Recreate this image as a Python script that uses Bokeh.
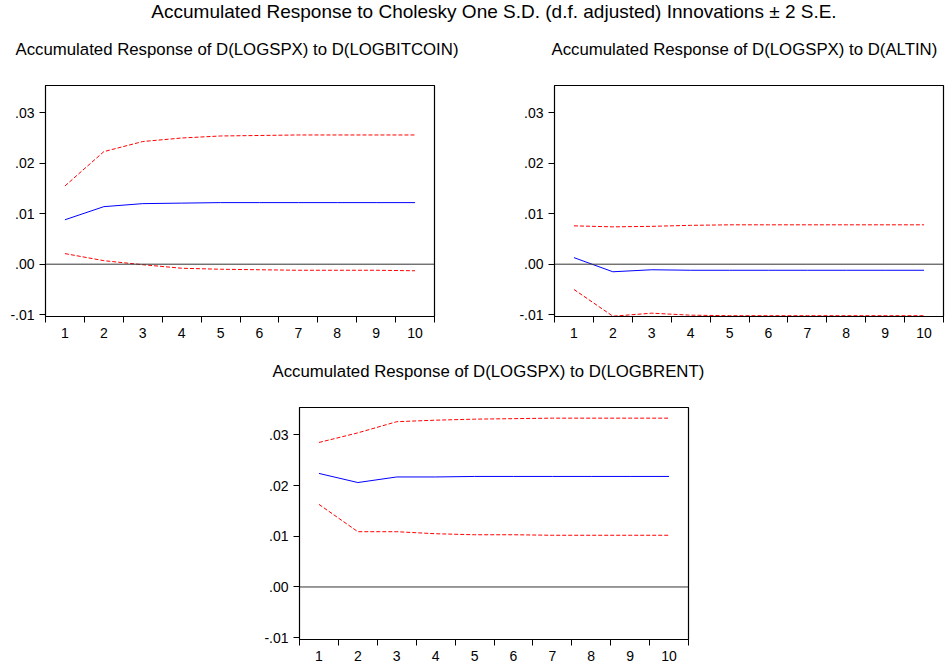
from bokeh.plotting import figure
from bokeh.layouts import column, row
from bokeh.models import Range1d, FixedTicker, Span, Title
from bokeh.embed import file_html
from bokeh.resources import INLINE

periods = [1, 2, 3, 4, 5, 6, 7, 8, 9, 10]

bitcoin_resp = [0.0088, 0.0114, 0.0120, 0.0121, 0.0122, 0.0122, 0.0122, 0.0122, 0.0122, 0.0122]
bitcoin_upper = [0.0155, 0.0223, 0.0243, 0.0250, 0.0254, 0.0255, 0.0256, 0.0256, 0.0256, 0.0256]
bitcoin_lower = [0.0021, 0.0007, -0.0001, -0.0008, -0.0010, -0.0011, -0.0012, -0.0012, -0.0012, -0.0013]

altin_resp = [0.0013, -0.0015, -0.0011, -0.0012, -0.0012, -0.0012, -0.0012, -0.0012, -0.0012, -0.0012]
altin_upper = [0.0076, 0.0074, 0.0075, 0.0077, 0.0078, 0.0078, 0.0078, 0.0078, 0.0078, 0.0078]
altin_lower = [-0.0050, -0.0103, -0.0097, -0.0101, -0.0102, -0.0102, -0.0102, -0.0102, -0.0102, -0.0102]

brent_resp = [0.0224, 0.0206, 0.0217, 0.0217, 0.0218, 0.0218, 0.0218, 0.0218, 0.0218, 0.0218]
brent_upper = [0.0285, 0.0304, 0.0326, 0.0329, 0.0331, 0.0332, 0.0333, 0.0333, 0.0333, 0.0333]
brent_lower = [0.0163, 0.0109, 0.0109, 0.0105, 0.0103, 0.0103, 0.0102, 0.0102, 0.0102, 0.0102]

y_ticks = [-0.01, 0.0, 0.01, 0.02, 0.03]
y_tick_labels = ["-.01", ".00", ".01", ".02", ".03"]
x_boundaries = [0.5, 1.5, 2.5, 3.5, 4.5, 5.5, 6.5, 7.5, 8.5, 9.5, 10.5]

main_title = "Accumulated Response to Cholesky One S.D. (d.f. adjusted) Innovations \u00b1 2 S.E."
sub_titles = [
    "Accumulated Response of D(LOGSPX) to D(LOGBITCOIN)",
    "Accumulated Response of D(LOGSPX) to D(ALTIN)",
    "Accumulated Response of D(LOGSPX) to D(LOGBRENT)",
]

FONT = "Liberation Sans"


def panel(title, resp, upper, lower, width, height, left, right, top, bottom, gap, shift):
    p = figure(width=width, height=height, output_backend="svg", toolbar_location=None,
               title=None,
               x_range=Range1d(0.5, 10.5), y_range=Range1d(-0.01036, 0.0354),
               min_border_left=left, min_border_right=right,
               min_border_top=top, min_border_bottom=bottom)
    # empty spacer title sitting between the frame and the subtitle
    p.add_layout(Title(text=" ", text_font_size="1px", standoff=gap), "above")
    p.add_layout(Title(text=title, text_font=FONT, text_font_size="16.8px",
                       text_font_style="normal", text_color="#000000",
                       align="left", offset=shift, vertical_align="bottom", standoff=0), "above")
    p.grid.visible = False
    p.outline_line_color = "#000000"
    p.outline_line_width = 1.2
    p.background_fill_color = "#ffffff"
    p.border_fill_color = "#ffffff"

    p.add_layout(Span(location=0, dimension="width", line_color="#333333", line_width=1))
    p.line(periods, upper, line_color="#ff0000", line_width=1, line_dash="4 2")
    p.line(periods, lower, line_color="#ff0000", line_width=1, line_dash="4 2")
    p.line(periods, resp, line_color="#0000ff", line_width=1)

    xa = p.xaxis[0]
    xa.ticker = FixedTicker(ticks=periods, minor_ticks=x_boundaries)
    xa.major_tick_out = 0
    xa.major_tick_in = 0
    xa.minor_tick_out = 6
    xa.minor_tick_in = 0
    xa.minor_tick_line_color = "#000000"
    xa.major_label_standoff = 5
    xa.major_label_text_font = FONT
    xa.major_label_text_font_size = "14px"
    xa.major_label_text_color = "#000000"
    xa.axis_line_color = "#000000"

    ya = p.yaxis[0]
    ya.ticker = FixedTicker(ticks=y_ticks, minor_ticks=[])
    ya.major_label_overrides = {t: lab for t, lab in zip(y_ticks, y_tick_labels)}
    ya.major_tick_out = 6
    ya.major_tick_in = 0
    ya.minor_tick_out = 0
    ya.minor_tick_in = 0
    ya.major_label_standoff = 5
    ya.major_label_text_font = FONT
    ya.major_label_text_font_size = "14px"
    ya.major_label_text_color = "#000000"
    ya.axis_line_color = "#000000"
    return p


tfig = figure(width=946, height=30, output_backend="svg", toolbar_location=None,
              min_border_left=38, min_border_right=0, min_border_top=0, min_border_bottom=0,
              x_range=Range1d(0, 1), y_range=Range1d(0, 1))
tfig.title.text = main_title
tfig.title.text_font = FONT
tfig.title.text_font_size = "19px"
tfig.title.text_font_style = "normal"
tfig.title.text_color = "#000000"
tfig.title.align = "center"
tfig.title.vertical_align = "top"
tfig.title.standoff = 0
tfig.axis.visible = False
tfig.grid.visible = False
tfig.outline_line_color = None

p1 = panel(sub_titles[0], bitcoin_resp, bitcoin_upper, bitcoin_lower, 500, 316, 45, 66, 55, 30, 24, -30)
p2 = panel(sub_titles[1], altin_resp, altin_upper, altin_lower, 446, 316, 54, 3, 55, 30, 24, -3)
p3 = panel(sub_titles[2], brent_resp, brent_upper, brent_lower, 946, 320, 299, 258, 61, 27, 24, -27)

layout = column(tfig, row(p1, p2), p3)

open("out.html", "w").write(file_html(layout, INLINE))
